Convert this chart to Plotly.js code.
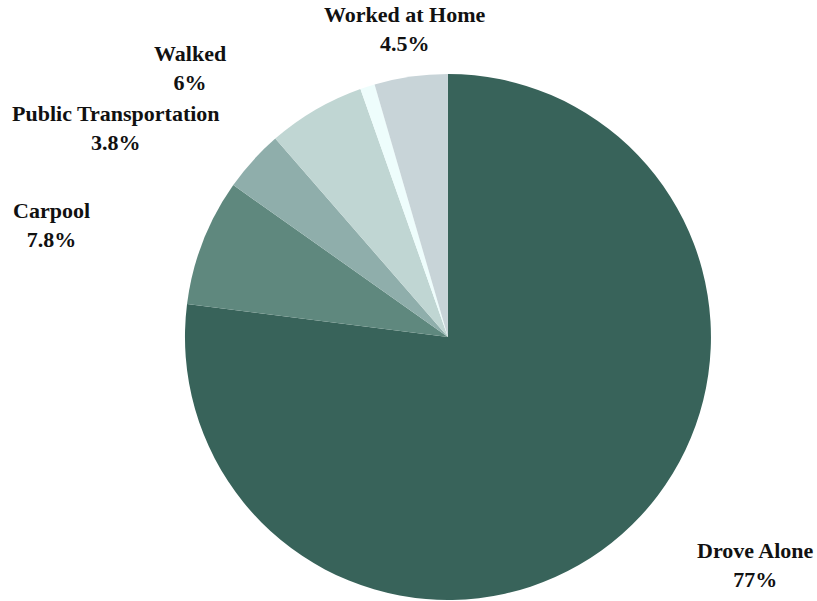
<!DOCTYPE html>
<html>
<head>
<meta charset="utf-8">
<script src="https://cdn.plot.ly/plotly-3.0.1.min.js"></script>
<style>html,body{margin:0;padding:0;background:#fff;}#chart{width:817px;height:601px;}</style>
</head>
<body>
<div id="chart"></div>
<script>
const categories = ["Drove Alone", "Carpool", "Public Transportation", "Walked", "Other", "Worked at Home"];
const shares = [77, 7.8, 3.8, 6, 0.9, 4.5];
const shareLabels = ["77%", "7.8%", "3.8%", "6%", "", "4.5%"];
const colors = ["#38635A", "#5F887E", "#8FAEAB", "#C0D6D3", "#EEFDFC", "#C8D4D8"];

// label placement (paper coords) for the labelled slices
const labelPos = {
  "Drove Alone": [755/817, 1 - 565/601],
  "Carpool": [51/817, 1 - 225/601],
  "Public Transportation": [116/817, 1 - 128/601],
  "Walked": [190/817, 1 - 68/601],
  "Worked at Home": [405/817, 1 - 29/601]
};

const annotations = [];
categories.forEach((c, i) => {
  if (!labelPos[c]) return;
  annotations.push({
    text: "<b>" + c + "</b><br><b>" + shareLabels[i] + "</b>",
    x: labelPos[c][0], y: labelPos[c][1],
    xref: "paper", yref: "paper",
    xanchor: "center", yanchor: "middle",
    showarrow: false,
    align: "center",
    font: {family: "Liberation Serif, serif", size: 22, color: "#111"}
  });
});

const trace = {
  type: "pie",
  labels: categories,
  values: shares,
  sort: false,
  direction: "clockwise",
  rotation: 0,
  textinfo: "none",
  hoverinfo: "label+percent",
  marker: {colors: colors, line: {width: 0}},
  domain: {x: [0.2264, 0.8702], y: [0.0017, 0.8769]},
  showlegend: false
};

Plotly.newPlot("chart", [trace], {
  width: 817, height: 601,
  margin: {l: 0, r: 0, t: 0, b: 0},
  paper_bgcolor: "#fff",
  showlegend: false,
  annotations: annotations
}, {displayModeBar: false});
</script>
</body>
</html>
